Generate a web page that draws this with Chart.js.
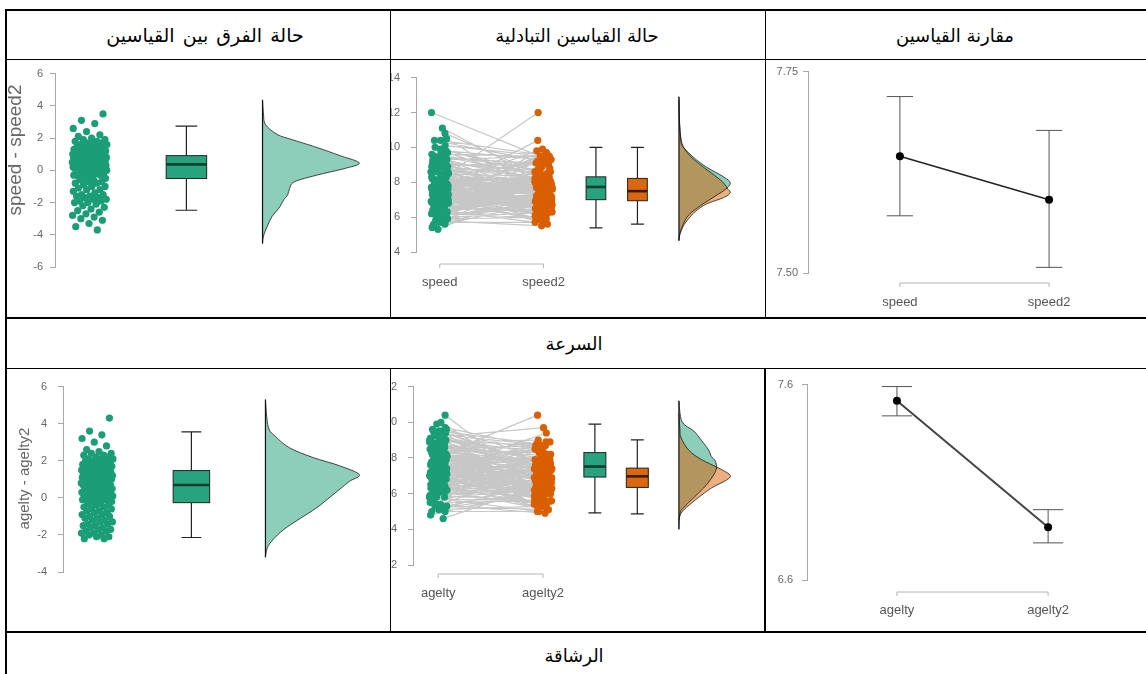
<!DOCTYPE html>
<html>
<head>
<meta charset="utf-8">
<script src="https://cdn.jsdelivr.net/npm/chart.js@4.4.1/dist/chart.umd.min.js"></script>
<style>
  html, body { margin: 0; padding: 0; background: #fff; }
  body { width: 1146px; height: 674px; position: relative; overflow: hidden; }
  .ln { position: absolute; background: #000; }
  .cell { position: absolute; overflow: hidden; }
  .cell canvas { position: absolute; left: 0; top: 0; filter: blur(0.35px); }
  .ar { position: absolute; font-family: "DejaVu Sans", sans-serif; font-size: 18px; color: #000;
        direction: rtl; white-space: nowrap; transform: translate(-50%, -50%); }
</style>
</head>
<body>

<!-- table rules -->
<div class="ln" style="left:6px;top:9px;width:1140px;height:2px"></div>
<div class="ln" style="left:5px;top:9px;width:2px;height:665px"></div>
<div class="ln" style="left:6px;top:59px;width:1140px;height:1px"></div>
<div class="ln" style="left:390px;top:10px;width:1px;height:308px"></div>
<div class="ln" style="left:765px;top:10px;width:1px;height:308px"></div>
<div class="ln" style="left:6px;top:317px;width:1140px;height:2px"></div>
<div class="ln" style="left:6px;top:368px;width:1140px;height:1px"></div>
<div class="ln" style="left:390px;top:368px;width:1px;height:264px"></div>
<div class="ln" style="left:764px;top:368px;width:2px;height:264px"></div>
<div class="ln" style="left:6px;top:631px;width:1140px;height:2px"></div>

<!-- headings -->
<div class="ar" style="left:205px;top:35px;font-size:19px;word-spacing:2px">حالة الفرق بين القياسين</div>
<div class="ar" style="left:577px;top:35px">حالة القياسين التبادلية</div>
<div class="ar" style="left:955px;top:35px">مقارنة القياسين</div>
<div class="ar" style="left:574px;top:343px">السرعة</div>
<div class="ar" style="left:574px;top:655px">الرشاقة</div>

<div class="cell" style="left:7px;top:60px;width:383px;height:257px"><canvas id="p1" width="383" height="257"></canvas></div>
<div class="cell" style="left:391px;top:60px;width:373px;height:257px"><canvas id="p2" width="373" height="257"></canvas></div>
<div class="cell" style="left:766px;top:60px;width:380px;height:257px"><canvas id="p3" width="380" height="257"></canvas></div>
<div class="cell" style="left:7px;top:369px;width:383px;height:262px"><canvas id="p4" width="383" height="262"></canvas></div>
<div class="cell" style="left:391px;top:369px;width:373px;height:262px"><canvas id="p5" width="373" height="262"></canvas></div>
<div class="cell" style="left:766px;top:369px;width:380px;height:262px"><canvas id="p6" width="380" height="262"></canvas></div>

<script>
// ---- measurements (paired, one entry per participant) ----
const speed = [6.5,7.8,6.1,7.3,6.8,8.4,6.3,5.9,7.5,6.6,5.6,7.1,6.2,6.9,5.8,7.6,6.4,5.5,6.7,6.0,
  7.0,5.7,6.5,7.9,6.1,5.4,6.8,5.9,6.3,7.2,5.6,6.6,5.3,6.9,6.0,7.4,6.2,5.8,6.4,8.3,
  7.2,8.6,6.7,7.9,6.0,7.7,8.9,6.4,7.5,9.3,5.9,7.1,8.1,7.6,6.8,7.4,8.0,9.0,5.7,7.3,
  8.2,6.5,7.8,9.6,7.0,8.5,6.2,7.7,7.2,8.8,6.9,7.9,7.5,8.3,6.6,7.8,9.4,7.1,8.0,5.8,
  7.6,8.4,6.3,7.9,9.1,7.2,8.1,7.0,8.6,7.7,6.7,9.8,8.2,7.4,8.0,7.3,8.9,6.9,7.8,10.1,
  7.5,8.3,7.1,8.7,7.6,6.4,9.2,7.9,8.1,7.3,8.5,7.7,9.5,6.8,8.2,7.4,8.8,7.8,10.4,7.0,
  8.0,7.5,8.6,9.0,7.2,8.3,7.7,9.3,6.9,8.1,7.6,8.9,10.4,8.4,7.8,9.6,7.1,8.7,7.9,9.9,
  8.2,7.4,9.4,8.5,7.7,10.0,8.8,7.3,9.1,8.0,8.6,9.7,8.3,9.5,10.8,8.9,12.0,11.1,9.2,10.5];
const speed2 = [7.1,8.4,6.8,8.0,7.6,9.2,7.2,6.9,8.5,7.7,6.8,8.3,7.5,8.3,7.3,9.1,8.0,7.1,8.4,7.7,
  8.8,7.5,8.4,9.8,8.1,7.4,8.9,8.1,8.6,9.6,8.1,9.2,8.0,9.7,8.9,10.4,9.3,9.1,9.9,12.0,
  7.7,9.1,7.1,8.3,6.3,8.0,9.2,6.6,7.7,9.5,6.0,7.2,8.2,7.7,6.8,7.4,8.0,9.0,5.7,7.2,
  8.1,6.4,7.7,9.5,6.9,8.3,6.0,7.5,7.0,8.6,6.7,7.7,7.2,8.0,6.3,7.5,9.1,6.8,7.7,5.5,
  7.2,8.0,5.9,7.5,8.7,6.8,7.7,6.5,8.1,7.2,6.2,9.3,7.7,6.9,7.4,6.7,8.3,6.3,7.2,9.5,
  6.9,7.6,6.4,8.0,6.9,5.7,8.5,7.2,7.3,6.5,7.7,6.9,8.7,6.0,7.3,6.5,7.9,6.9,9.5,6.1,
  7.0,6.5,7.6,8.0,6.2,7.2,6.6,8.2,5.8,6.9,6.4,7.7,9.2,7.1,6.5,8.3,5.8,7.3,6.5,8.5,
  6.7,5.9,7.9,6.9,6.1,8.4,7.1,5.6,7.3,6.2,6.7,7.8,6.3,7.4,8.6,6.5,9.4,8.2,6.1,7.0];
const agility = [6.5,7.6,5.8,7.0,6.3,9.2,5.4,6.8,6.1,7.3,5.2,6.6,5.9,7.8,6.4,5.0,6.9,5.6,6.2,7.5,
  5.3,6.7,5.7,7.1,6.0,4.8,6.5,5.5,7.2,5.1,6.3,4.6,5.8,7.0,5.4,6.6,6.1,7.3,5.6,8.2,
  6.0,7.4,5.1,8.5,6.7,7.9,5.5,8.9,6.3,7.2,8.0,5.0,6.9,7.6,6.2,8.4,5.7,7.0,7.8,6.5,
  8.7,5.3,7.3,6.8,8.2,7.5,5.9,9.0,7.1,8.3,6.4,7.7,6.9,8.6,5.4,7.4,8.0,6.6,9.3,7.6,
  7.2,8.4,6.1,7.9,9.5,6.8,7.6,8.8,5.8,8.1,7.3,8.6,6.4,7.7,9.1,7.0,8.2,6.6,7.8,9.4,
  7.5,8.5,6.2,8.0,9.7,7.4,8.3,6.9,8.8,7.1,7.9,8.7,6.5,9.2,7.6,8.1,7.3,9.0,8.4,6.8,
  8.0,7.5,8.9,6.9,8.3,7.7,9.3,7.2,8.6,7.9,9.6,7.0,8.2,8.5,7.4,9.1,8.0,7.6,9.4,8.7,
  7.8,9.2,8.3,8.1,9.5,7.3,8.8,7.7,9.0,8.4,9.3,7.9,8.6,9.6,8.2,9.9,8.9,10.0,9.4,10.4];
const agility2 = [6.8,7.9,6.2,7.4,6.8,9.7,6.0,7.4,6.8,8.0,6.0,7.4,6.8,8.7,7.4,6.0,8.0,6.7,7.4,8.7,
  6.6,8.0,7.1,8.5,7.5,6.3,8.1,7.1,8.9,6.8,8.1,6.4,7.7,8.9,7.4,8.6,8.2,9.4,7.8,10.4,
  6.2,7.6,5.3,8.7,6.8,8.0,5.6,9.0,6.3,7.2,8.0,5.0,6.9,7.5,6.1,8.3,5.6,6.9,7.6,6.3,
  8.5,5.1,7.1,6.5,7.9,7.2,5.6,8.7,6.7,7.9,6.0,7.3,6.4,8.1,4.9,6.9,7.4,6.0,8.7,7.0,
  6.5,7.7,5.4,7.2,8.8,6.0,6.8,8.0,5.0,7.3,6.4,7.7,5.5,6.8,8.2,6.0,7.2,5.6,6.8,8.4,
  6.4,7.4,5.1,6.9,8.6,6.2,7.1,5.7,7.6,5.9,6.6,7.4,5.2,7.9,6.3,6.7,5.9,7.6,7.0,5.4,
  6.5,6.0,7.4,5.4,6.7,6.1,7.7,5.6,6.9,6.2,7.9,5.3,6.5,6.7,5.6,7.3,6.1,5.7,7.5,6.7,
  5.8,7.2,6.3,6.0,7.4,5.2,6.6,5.5,6.7,6.1,6.9,5.5,6.1,7.0,5.4,6.9,5.7,6.6,5.8,6.1];

// ---- categories ----
const speedCats = ['speed', 'speed2'];
const agilityCats = ['agelty', 'agelty2'];

// ---- box summaries: [lower whisker, Q1, median, Q3, upper whisker] ----
const speedDiffBox = [-2.48, -0.51, 0.37, 0.91, 2.74];
const speedBox = [5.38, 7.00, 7.73, 8.31, 10.0];
const speed2Box = [5.60, 6.94, 7.49, 8.22, 10.0];
const agilityDiffBox = [-2.14, -0.26, 0.69, 1.47, 3.56];
const agilityBox = [4.92, 6.93, 7.52, 8.30, 9.90];
const agility2Box = [4.87, 6.35, 6.97, 7.43, 9.01];

// ---- density profiles (value, relative height) ----
const speedDiffDensY = [4.37,3.5,2.84,2.23,1.93,1.42,0.91,0.45,0.10,-0.30,-0.71,-1.12,-1.52,-1.83,-2.34,-2.85,-3.46,-4.07,-4.55];
const speedDiffDensW = [0,0.01,0.03,0.15,0.29,0.56,0.80,1.0,0.84,0.56,0.33,0.28,0.26,0.22,0.17,0.10,0.05,0.01,0];
const speedDensY = [12.9,11.5,10.3,9.96,9.41,8.86,8.31,7.95,7.58,7.21,6.66,6.12,5.57,5.1,4.65];
const speedDensW = [0,0.01,0.04,0.10,0.29,0.54,0.87,1.0,0.90,0.71,0.42,0.19,0.08,0.02,0];
const speed2DensY = [12.7,11.5,10.5,9.96,9.41,8.86,8.31,7.95,7.58,7.40,7.12,6.76,6.40,6.12,5.57,5.02,4.7];
const speed2DensW = [0,0.01,0.04,0.10,0.25,0.48,0.73,0.87,0.96,1.0,0.87,0.54,0.35,0.25,0.10,0.02,0];
const agilityDiffDensY = [5.30,3.82,3.30,2.69,2.17,1.73,1.25,0.87,0.17,-0.52,-1.21,-1.73,-2.26,-2.69,-3.21];
const agilityDiffDensW = [0,0.03,0.11,0.26,0.51,0.79,1.0,0.89,0.72,0.55,0.34,0.19,0.08,0.02,0];
const agilityDensY = [11.2,10.04,9.51,8.98,8.44,8.09,7.82,7.38,6.84,6.31,5.78,5.24,4.89,4.0];
const agilityDensW = [0,0.06,0.29,0.44,0.58,0.63,0.71,0.73,0.63,0.48,0.29,0.10,0.02,0];
const agility2DensY = [10.5,9.6,9.15,8.44,7.91,7.38,7.02,6.75,6.31,5.78,5.24,4.89,4.53];
const agility2DensW = [0,0.02,0.04,0.19,0.44,0.81,1.0,0.92,0.63,0.38,0.15,0.04,0];

// ---- means with 95% CI ----
const speedMeans = [7.645, 7.591];
const speedLower = [7.571, 7.507];
const speedUpper = [7.719, 7.677];
const agilityMeans = [7.517, 6.870];
const agilityLower = [7.440, 6.790];
const agilityUpper = [7.590, 6.960];

// ---- axis ticks ----
const speedDiffTicks = [-6, -4, -2, 0, 2, 4, 6];
const speedPairTicks = [4, 6, 8, 10, 12, 14];
const speedMeanTicks = [7.50, 7.75];
const agilityDiffTicks = [-4, -2, 0, 2, 4, 6];
const agilityPairTicks = [2, 4, 6, 8, 10, 12];
const agilityMeanTicks = [6.6, 7.6];

// ---------------------------------------------------------------
const GREEN = '#1b9e77', ORANGE = '#d95f02';
const GREEN_A = 'rgba(27,158,119,0.5)', ORANGE_A = 'rgba(217,95,2,0.5)';
const K1 = 0.6180339887, K2 = 0.7548776662;
const jit = (i, k) => ((i + 1) * k) % 1 - 0.5;
const FONT = 'Liberation Sans, Arial, sans-serif';
const DOT = 3.6;
Chart.defaults.font.family = FONT;

const PANELS = {};

function curveThrough(ctx, p) {
  for (let i = 0; i < p.length - 1; i++) {
    const p0 = p[i - 1] || p[i], p1 = p[i], p2 = p[i + 1], p3 = p[i + 2] || p2;
    const t = 1 / 6;
    ctx.bezierCurveTo(p1[0] + (p2[0] - p0[0]) * t, p1[1] + (p2[1] - p0[1]) * t,
                      p2[0] - (p3[0] - p1[0]) * t, p2[1] - (p3[1] - p1[1]) * t, p2[0], p2[1]);
  }
}

// draws half-violins, boxplots, the category bracket and the rotated axis title
const raincloud = {
  id: 'raincloud',
  afterDatasetsDraw(chart) {
    const o = PANELS[chart.canvas.id];
    if (!o) return;
    const ctx = chart.ctx, xs = chart.scales.x, ys = chart.scales.y, ca = chart.chartArea;
    const px = v => xs.getPixelForValue(v), py = v => ys.getPixelForValue(v);
    ctx.save();
    // densities
    if (o.densities) {
      let lo = Infinity, hi = -Infinity, base = null;
      o.densities.forEach(d => {
        base = d.base;
        const pts = d.y.map((v, i) => [px(d.base + d.w[i] * d.scale), py(v)]);
        lo = Math.min(lo, ...d.y); hi = Math.max(hi, ...d.y);
        ctx.beginPath();
        ctx.moveTo(pts[0][0], pts[0][1]);
        curveThrough(ctx, pts);
        ctx.lineTo(px(d.base), pts[pts.length - 1][1]);
        ctx.closePath();
        ctx.fillStyle = d.fill;
        ctx.fill();
      });
      o.densities.forEach(d => {
        const pts = d.y.map((v, i) => [px(d.base + d.w[i] * d.scale), py(v)]);
        ctx.beginPath();
        ctx.moveTo(pts[0][0], pts[0][1]);
        curveThrough(ctx, pts);
        ctx.strokeStyle = 'rgba(20,20,20,0.85)';
        ctx.lineWidth = 0.9;
        ctx.stroke();
      });
      ctx.beginPath();
      ctx.moveTo(px(base), py(hi));
      ctx.lineTo(px(base), py(lo));
      ctx.strokeStyle = '#111';
      ctx.lineWidth = 1.2;
      ctx.stroke();
    }
    // boxplots
    (o.boxes || []).forEach(b => {
      const [wl, q1, md, q3, wh] = b.stats;
      const xc = px(b.x), hw = (px(b.x + b.w / 2) - px(b.x - b.w / 2)) / 2;
      const cw = (px(b.x + b.cap / 2) - px(b.x - b.cap / 2)) / 2;
      ctx.strokeStyle = '#222';
      ctx.lineWidth = 1.2;
      ctx.beginPath();
      ctx.moveTo(xc, py(wh)); ctx.lineTo(xc, py(q3));
      ctx.moveTo(xc, py(q1)); ctx.lineTo(xc, py(wl));
      ctx.moveTo(xc - cw, py(wh)); ctx.lineTo(xc + cw, py(wh));
      ctx.moveTo(xc - cw, py(wl)); ctx.lineTo(xc + cw, py(wl));
      ctx.stroke();
      ctx.fillStyle = b.fill;
      ctx.fillRect(xc - hw, py(q3), hw * 2, py(q1) - py(q3));
      ctx.lineWidth = 1;
      ctx.strokeRect(xc - hw, py(q3), hw * 2, py(q1) - py(q3));
      ctx.beginPath();
      ctx.moveTo(xc - hw, py(md)); ctx.lineTo(xc + hw, py(md));
      ctx.lineWidth = 2.6;
      ctx.strokeStyle = b.median;
      ctx.stroke();
    });
    // category bracket under the paired groups
    if (o.bracket) {
      const b = o.bracket, yb = ca.bottom + b.gap;
      const x1 = px(b.at[0]), x2 = px(b.at[1]);
      ctx.beginPath();
      ctx.moveTo(x1, yb + 4); ctx.lineTo(x1, yb); ctx.lineTo(x2, yb); ctx.lineTo(x2, yb + 4);
      ctx.strokeStyle = '#b4b4b4';
      ctx.lineWidth = 1;
      ctx.stroke();
      ctx.fillStyle = '#555';
      ctx.font = '13px ' + FONT;
      ctx.textAlign = 'center';
      ctx.textBaseline = 'middle';
      b.labels.forEach((t, i) => ctx.fillText(t, px(b.at[i]), ca.bottom + b.labelGap));
    }
    // rotated y title
    if (o.title) {
      ctx.translate(o.title.x, py(o.title.at));
      ctx.rotate(-Math.PI / 2);
      ctx.fillStyle = '#666';
      ctx.font = o.title.size + 'px ' + FONT;
      ctx.textAlign = 'center';
      ctx.textBaseline = 'middle';
      ctx.fillText(o.title.text, 0, 0);
    }
    ctx.restore();
  }
};

function makeChart(id, o) {
  PANELS[id] = o;
  return new Chart(document.getElementById(id), {
    type: 'scatter',
    data: { datasets: o.datasets },
    options: {
      responsive: false, animation: false, events: [],
      layout: { padding: { top: o.padTop, bottom: o.padBottom, left: 0, right: 0 } },
      plugins: { legend: { display: false }, tooltip: { enabled: false } },
      scales: {
        x: { type: 'linear', display: false, min: o.xMin, max: o.xMax },
        y: {
          type: 'linear', min: o.ticks[0], max: o.ticks[o.ticks.length - 1],
          afterFit(s) { s.width = o.axisW; },
          afterBuildTicks(s) { s.ticks = o.ticks.map(v => ({ value: v })); },
          border: { display: true, color: '#a8a8a8', width: 1 },
          grid: { display: true, drawOnChartArea: false, drawTicks: true, tickLength: 5, color: '#a8a8a8' },
          ticks: { color: '#666', font: { size: 11 }, padding: o.tickPad, callback: v => o.fmt(v) }
        }
      }
    },
    plugins: [raincloud]
  });
}

function diffPanel(id, a, b, box, densY, densW, ticks, g) {
  const diff = a.map((v, i) => +(v - b[i]).toFixed(2));
  makeChart(id, Object.assign({
    ticks, fmt: v => String(v),
    datasets: [{
      data: diff.map((v, i) => ({ x: 1 + jit(i, K1) * g.spread, y: v })),
      backgroundColor: GREEN, pointRadius: DOT, borderWidth: 0
    }],
    boxes: [{ x: 2, w: g.boxW, cap: g.capW, stats: box, fill: 'rgba(27,158,119,0.95)', median: '#123d30' }],
    densities: [{ base: g.base, scale: g.densScale, y: densY, w: densW, fill: GREEN_A }]
  }, g));
}

function pairedPanel(id, a, b, cats, boxA, boxB, dA, dB, ticks, g) {
  const lines = [];
  a.forEach((v, i) => {
    lines.push({ x: 1 + jit(i, K1) * g.spread, y: v },
               { x: 2 + jit(i, K2) * g.spread, y: b[i] },
               { x: 1.5, y: null });
  });
  makeChart(id, Object.assign({
    ticks, fmt: v => String(v),
    datasets: [
      { data: lines, showLine: true, spanGaps: false, pointRadius: 0, borderWidth: 1.2,
        borderColor: 'rgba(180,180,180,0.75)', order: 3 },
      { data: a.map((v, i) => ({ x: 1 + jit(i, K1) * g.spread, y: v })),
        backgroundColor: GREEN, pointRadius: DOT, borderWidth: 0, order: 2 },
      { data: b.map((v, i) => ({ x: 2 + jit(i, K2) * g.spread, y: v })),
        backgroundColor: ORANGE, pointRadius: DOT, borderWidth: 0, order: 1 }
    ],
    boxes: [
      { x: g.boxA, w: g.boxW, cap: g.capW, stats: boxA, fill: 'rgba(27,158,119,0.95)', median: '#123d30' },
      { x: g.boxB, w: g.boxW, cap: g.capW, stats: boxB, fill: 'rgba(217,95,2,0.95)', median: '#3d1a00' }
    ],
    densities: [
      { base: g.base, scale: g.densScale, y: dA[0], w: dA[1], fill: GREEN_A },
      { base: g.base, scale: g.densScale, y: dB[0], w: dB[1], fill: ORANGE_A }
    ],
    bracket: { at: [1, 2], labels: cats, gap: g.bGap, labelGap: g.lGap }
  }, g));
}

function meansPanel(id, means, lower, upper, cats, ticks, fmt, g) {
  const bars = [];
  means.forEach((m, i) => {
    const x = i + 1;
    bars.push({ x, y: lower[i] }, { x, y: upper[i] }, { x, y: null },
              { x: x - g.cap, y: upper[i] }, { x: x + g.cap, y: upper[i] }, { x, y: null },
              { x: x - g.cap, y: lower[i] }, { x: x + g.cap, y: lower[i] }, { x, y: null });
  });
  makeChart(id, Object.assign({
    ticks, fmt,
    datasets: [
      { data: bars, showLine: true, spanGaps: false, pointRadius: 0, borderWidth: 1,
        borderColor: '#555', order: 2 },
      { data: means.map((m, i) => ({ x: i + 1, y: m })), showLine: true, borderColor: g.lineColor,
        borderWidth: g.lineW, pointRadius: 4, pointBackgroundColor: '#000', pointBorderWidth: 0, order: 1 }
    ],
    bracket: { at: [1, 2], labels: cats, gap: g.bGap, labelGap: g.lGap }
  }, g));
}

// ---- speed row ----
diffPanel('p1', speed, speed2, speedDiffBox, speedDiffDensY, speedDiffDensW, speedDiffTicks, {
  padTop: 10, padBottom: 50, axisW: 48, tickPad: 7, xMin: 0.643, xMax: 4.061,
  spread: 0.36, boxW: 0.418, capW: 0.224, base: 2.786, densScale: 1.0,
  title: { text: 'speed - speed2', x: 9, at: 1.26, size: 19 }
});
pairedPanel('p2', speed, speed2, speedCats, speedBox, speed2Box,
  [speedDensY, speedDensW], [speed2DensY, speed2DensW], speedPairTicks, {
  padTop: 10, padBottom: 65, axisW: 25, tickPad: 11, xMin: 0.771, xMax: 4.086,
  spread: 0.17, boxA: 2.505, boxB: 2.905, boxW: 0.19, capW: 0.124, base: 3.305, densScale: 0.495,
  bGap: 12, lGap: 30
});
meansPanel('p3', speedMeans, speedLower, speedUpper, speedCats, speedMeanTicks, v => v.toFixed(2), {
  padTop: 10, padBottom: 44, axisW: 42, tickPad: 5, xMin: 0.384, xMax: 2.623,
  cap: 0.088, lineColor: '#222', lineW: 1.5, bGap: 10, lGap: 29
});

// ---- agility row ----
diffPanel('p4', agility, agility2, agilityDiffBox, agilityDiffDensY, agilityDiffDensW, agilityDiffTicks, {
  padTop: 11, padBottom: 59, axisW: 56, tickPad: 11, xMin: 0.639, xMax: 4.063,
  spread: 0.34, boxW: 0.387, capW: 0.21, base: 2.785, densScale: 0.995,
  title: { text: 'agelty - agelty2', x: 18, at: 1.04, size: 15 }
});
pairedPanel('p5', agility, agility2, agilityCats, agilityBox, agility2Box,
  [agilityDensY, agilityDensW], [agility2DensY, agility2DensW], agilityPairTicks, {
  padTop: 9, padBottom: 66, axisW: 22, tickPad: 11, xMin: 0.759, xMax: 4.071,
  spread: 0.17, boxA: 2.495, boxB: 2.90, boxW: 0.21, capW: 0.123, base: 3.297, densScale: 0.49,
  bGap: 9, lGap: 28
});
meansPanel('p6', agilityMeans, agilityLower, agilityUpper, agilityCats, agilityMeanTicks, v => v.toFixed(1), {
  padTop: 11, padBottom: 51, axisW: 41, tickPad: 9, xMin: 0.405, xMax: 2.621,
  cap: 0.1, lineColor: '#444', lineW: 2, bGap: 12, lGap: 30
});
</script>
</body>
</html>
